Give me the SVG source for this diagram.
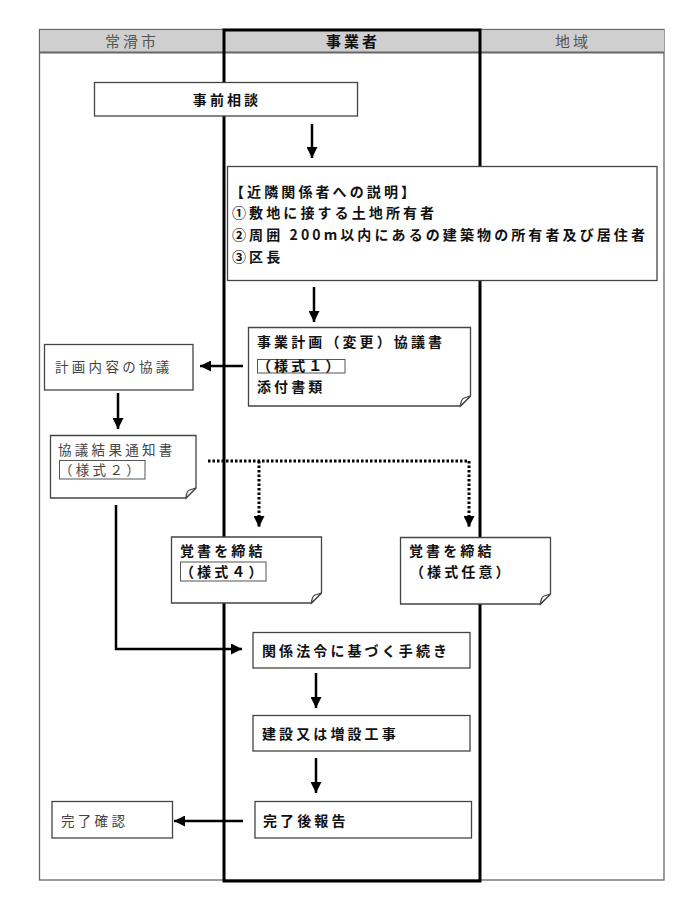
<svg xmlns="http://www.w3.org/2000/svg" width="690" height="905" viewBox="0 0 690 905">
<style>
.frame{fill:#fff;stroke:#666;stroke-width:1.3}
.box{fill:#fff;stroke:#444;stroke-width:1.3}
.tag{fill:none;stroke:#555;stroke-width:1}
.b{font-family:"Noto Sans CJK JP","Noto Sans",sans-serif;font-weight:bold;font-size:14px;letter-spacing:3.1px;fill:#111}
.n{font-family:"Noto Sans CJK JP","Noto Sans",sans-serif;font-weight:normal;font-size:13.5px;letter-spacing:3.3px;fill:#444}
.h{font-family:"Noto Sans CJK JP","Noto Sans",sans-serif;font-size:15px;letter-spacing:3px;fill:#555;text-anchor:middle}
.con{fill:none;stroke:#000;stroke-width:2.5}
.dot{fill:none;stroke:#000;stroke-width:3;stroke-dasharray:2.5 2}
</style>
<defs>
<marker id="ah" markerUnits="userSpaceOnUse" markerWidth="12" markerHeight="11" refX="11" refY="5.5" orient="auto">
<path d="M0,0 L11,5.5 L0,11 z" fill="#000"/>
</marker>
</defs>
<g id="lanes">
<rect class="frame" x="39.5" y="29.5" width="624.5" height="850.5"/>
<rect x="40" y="30" width="624" height="22" fill="#cfcfcf"/>
<line x1="40" y1="52.5" x2="664" y2="52.5" stroke="#666" stroke-width="2"/>
<rect x="224" y="30" width="256" height="851" fill="none" stroke="#000" stroke-width="3"/>
<text class="h" x="132" y="47">常滑市</text>
<text class="h" x="353" y="47" style="font-weight:bold;fill:#111">事業者</text>
<text class="h" x="573" y="47">地域</text>
</g>
<g id="connectors">
<line class="con" x1="312" y1="124" x2="312" y2="158" marker-end="url(#ah)"/>
<line class="con" x1="314" y1="287" x2="314" y2="322" marker-end="url(#ah)"/>
<line class="con" x1="243" y1="366" x2="200" y2="366" marker-end="url(#ah)"/>
<line class="con" x1="118" y1="393" x2="118" y2="429" marker-end="url(#ah)"/>
<path class="dot" d="M208,461 H469 V527" marker-end="url(#ah)"/>
<path class="dot" d="M259,461 V527" marker-end="url(#ah)"/>
<path class="con" d="M116,505 V649 H242" marker-end="url(#ah)"/>
<line class="con" x1="316" y1="673" x2="316" y2="708" marker-end="url(#ah)"/>
<line class="con" x1="316" y1="758" x2="316" y2="793" marker-end="url(#ah)"/>
<line class="con" x1="243" y1="821" x2="174" y2="821" marker-end="url(#ah)"/>
</g>
<g id="n1">
<rect class="box" x="94.5" y="82.5" width="263" height="33.5"/>
<text class="b" x="227" y="105" text-anchor="middle">事前相談</text>
</g>
<g id="n2">
<rect class="box" x="227.5" y="166.5" width="429.5" height="114"/>
<text class="b" x="230" y="196.5">【近隣関係者への説明】</text>
<text class="b" x="232" y="218">①敷地に接する土地所有者</text>
<text class="b" x="232" y="240">②周囲 200m以内にあるの建築物の所有者及び居住者</text>
<text class="b" x="232" y="261.5">③区長</text>
</g>
<g id="n3">
<path class="box" d="M248.5,327.5 H470.5 V396 L460.5,406 H248.5 Z"/>
<path class="box" d="M470.5,396 L460.5,406 Q461,399 464,398 Z"/>
<text class="b" x="257" y="346.5">事業計画（変更）協議書</text>
<rect class="tag" x="257.5" y="359.5" width="87.5" height="13.5"/>
<text class="b" x="257" y="371">（様式１）</text>
<text class="b" x="257" y="391.5">添付書類</text>
</g>
<g id="n4">
<rect class="box" x="44.5" y="344.5" width="148.5" height="45.5"/>
<text class="n" x="55" y="372">計画内容の協議</text>
</g>
<g id="n5">
<path class="box" d="M50.5,435.5 H196 V488 L186,498 H50.5 Z"/>
<path class="box" d="M196,488 L186,498 Q186.5,491 189.5,490 Z"/>
<text class="n" x="58" y="455">協議結果通知書</text>
<rect class="tag" x="59.5" y="460.5" width="85.5" height="18.5"/>
<text class="n" x="59" y="475">（様式２）</text>
</g>
<g id="n6">
<path class="box" d="M171.5,537 H321.5 V593 L311.5,603 H171.5 Z"/>
<path class="box" d="M321.5,593 L311.5,603 Q312,596 315,595 Z"/>
<text class="b" x="180" y="556">覚書を締結</text>
<rect class="tag" x="180.5" y="562" width="85.5" height="19"/>
<text class="b" x="180" y="576.5">（様式４）</text>
</g>
<g id="n7">
<path class="box" d="M400.5,537.5 H550.5 V594 L540.5,604 H400.5 Z"/>
<path class="box" d="M550.5,594 L540.5,604 Q541,597 544,596 Z"/>
<text class="b" x="409" y="556">覚書を締結</text>
<text class="b" x="410" y="577">（様式任意）</text>
</g>
<g id="n8">
<rect class="box" x="253" y="632.5" width="217" height="35.5"/>
<text class="b" x="262" y="656">関係法令に基づく手続き</text>
</g>
<g id="n9">
<rect class="box" x="253" y="715.5" width="217" height="35.5"/>
<text class="b" x="262" y="739">建設又は増設工事</text>
</g>
<g id="n10">
<rect class="box" x="255" y="801.5" width="216.5" height="36.5"/>
<text class="b" x="263" y="826">完了後報告</text>
</g>
<g id="n11">
<rect class="box" x="52" y="801.5" width="120.5" height="36.5"/>
<text class="n" x="61" y="826">完了確認</text>
</g>
</svg>
